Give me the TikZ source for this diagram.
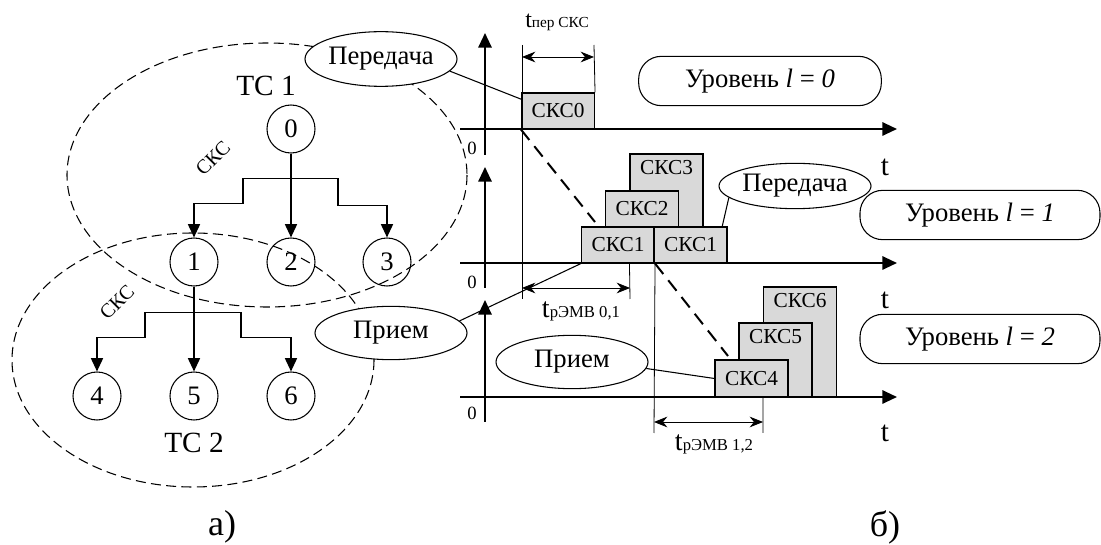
\documentclass[tikz,border=0pt]{standalone}
\usepackage{fontspec}
\setmainfont{Liberation Serif}
\usetikzlibrary{shapes.geometric, arrows.meta}
\definecolor{boxgray}{RGB}{217,217,217}
\newcommand{\durlabel}[3]{{\fontsize{#1}{22}\selectfont t}{\fontsize{#2}{14}\selectfont #3}}

\begin{document}
\begin{tikzpicture}[x=0.75pt, y=-0.75pt,
  vertex/.style={circle, draw=black, thick, minimum size=36pt, inner sep=0pt, font=\fontsize{20}{22}\selectfont},
  msg/.style={ellipse, draw=black, thick, fill=white, minimum width=114pt, minimum height=40pt, inner sep=0pt, font=\fontsize{20}{22}\selectfont},
  skc/.style={rectangle, draw=black, thick, fill=boxgray, minimum width=54.75pt, minimum height=27pt, inner sep=0pt, font=\fontsize{16}{18}\selectfont},
  skctext/.style={font=\fontsize{16}{18}\selectfont, anchor=north, yshift=-2pt},
  tier/.style={rectangle, rounded corners=17pt, draw=black, thick, fill=white, minimum width=182pt, minimum height=37pt, font=\fontsize{20}{22}\selectfont},
  title/.style={font=\fontsize{22}{24}\selectfont},
  zonelbl/.style={font=\fontsize{15}{17}\selectfont, rotate=45},
  zero/.style={font=\fontsize{14}{16}\selectfont},
  tlbl/.style={font=\fontsize{22}{24}\selectfont},
  caption/.style={font=\fontsize{27}{30}\selectfont},
  arrow/.style={line width=1.3pt, -{Triangle[length=10pt, width=9pt]}},
  timeaxis/.style={line width=1.5pt, -{Triangle[length=11pt, width=10pt]}},
  span/.style={line width=0.6pt, {Stealth[length=10pt, width=8pt]}-{Stealth[length=10pt, width=8pt]}},
  guide/.style={line width=0.6pt},
  link/.style={line width=0.8pt},
  zone/.style={line width=0.8pt, dash pattern=on 7.5pt off 4pt},
  jump/.style={line width=1.5pt, dash pattern=on 10pt off 6pt}
]
\useasboundingbox (0,0) rectangle (1101,545);

% a) tree
\draw [zone] (267,175) ellipse [x radius=200, y radius=132];
\draw [zone] (193,360) ellipse [x radius=181, y radius=127];
\node (z1) [zonelbl] at (213,158) {СКС};
\node (z2) [zonelbl] at (117,302) {СКС};

\node (tc1) [title] at (266,86) {ТС 1};
\node (tc2) [title] at (194,443) {ТС 2};

\node (n0) [vertex] at (291,129) {0};
\node (n1) [vertex] at (194,262) {1};
\node (n2) [vertex] at (291,262) {2};
\node (n3) [vertex] at (387,262) {3};
\node (n4) [vertex] at (97,396) {4};
\node (n5) [vertex] at (194,396) {5};
\node (n6) [vertex] at (291,396) {6};

\draw [arrow] (n0) -- (n2);
\draw [arrow] (n0.south) -- ++(0,25) -| ++(-48,25) -| (n1.north);
\draw [arrow] (n0.south) -- ++(0,25) -| ++(47,27) -| (n3.north);
\draw [arrow] (n1) -- (n5);
\draw [arrow] (n1.south) -- ++(0,26) -| ++(-49,25) -| (n4.north);
\draw [arrow] (n1.south) -- ++(0,26) -| ++(47,25) -| (n6.north);

\node (sendL) [msg, minimum height=41pt] at (381,59) {Передача};
\node (recvL) [msg] at (391,333) {Прием};

% b) time axes
\coordinate (x0a) at (460,129); \coordinate (x0b) at (897,129);
\coordinate (y0a) at (485,155); \coordinate (y0b) at (485,33);
\coordinate (x1a) at (460,263); \coordinate (x1b) at (897,263);
\coordinate (y1a) at (485,288); \coordinate (y1b) at (485,167);
\coordinate (x2a) at (460,397); \coordinate (x2b) at (897,397);
\coordinate (y2a) at (485,422); \coordinate (y2b) at (485,300);
\draw [timeaxis] (x0a) -- (x0b);
\draw [timeaxis] (y0a) -- (y0b);
\draw [timeaxis] (x1a) -- (x1b);
\draw [timeaxis] (y1a) -- (y1b);
\draw [timeaxis] (x2a) -- (x2b);
\draw [timeaxis] (y2a) -- (y2b);

\node (o0) [zero] at (472,148) {0};
\node (o1) [zero] at (472,282) {0};
\node (o2) [zero] at (472,413) {0};
\node (t0) [tlbl] at (885,167) {t};
\node (t1) [tlbl] at (885,300) {t};
\node (t2) [tlbl] at (885,433) {t};

% frames
\node (c0) [skc] at (558,111) {СКС0};
\node (c3) [skc, minimum height=81.75pt, label={[skctext]north:СКС3}] at (666.5,208.5) {};
\node (c2) [skc] at (642,209) {СКС2};
\node (c1a) [skc] at (618,245) {СКС1};
\node (c1b) [skc] at (690.5,245) {СКС1};
\node (c6) [skc, minimum height=82.5pt, label={[skctext]north:СКС6}] at (800,342) {};
\node (c5) [skc, minimum height=55.5pt, label={[skctext]north:СКС5}] at (775.5,360) {};
\node (c4) [skc, minimum height=27.75pt] at (751.5,378.5) {СКС4};

% guide lines and spans
\coordinate (g0a) at (522,45); \coordinate (g0b) at (522,299);
\coordinate (g1a) at (594,45);
\coordinate (g2b) at (630,299);
\coordinate (g3b) at (654,433);
\coordinate (g4b) at (763,433);
\draw [guide] (g0a) -- (g0b);
\draw [guide] (g1a) -- (c0.north east);
\draw [guide] (c3.south west) -- (g2b);
\draw [guide] (c1a.south east) -- (g3b);
\draw [guide] (c6.south west) -- (g4b);

\coordinate (s0a) at (522,57); \coordinate (s0b) at (594,57);
\coordinate (s1a) at (522,288); \coordinate (s1b) at (630,288);
\coordinate (s2a) at (654,422); \coordinate (s2b) at (763,422);
\draw [span] (s0a) -- (s0b);
\draw [span] (s1a) -- (s1b);
\draw [span] (s2a) -- (s2b);
\node (tper) at (557,22) {\durlabel{18}{11.5}{пер СКС}};
\node (tr01) at (581,311) {\durlabel{21}{12.5}{рЭМВ 0,1}};
\node (tr12) at (714,444) {\durlabel{21}{12.5}{рЭМВ 1,2}};

\coordinate (j0) at (595,222);
\coordinate (j1) at (728,356);
\draw [jump] (c0.south west) -- (j0);
\draw [jump] (c1a.south east) -- (j1);

\node (sendR) [msg, minimum height=34pt] at (795,186) {Передача};
\node (recvR) [msg] at (572,362) {Прием};

\draw [link] (sendL.-10) -- ([yshift=-5pt]c0.north west);
\draw [link] (recvL.10) -- (c1a.south west);
\draw [link] (sendR.190) -- ([xshift=-4pt]c1b.north east);
\draw [link] (recvR.-5) -- (c4.west);

\node (lv0) [tier] at (760,81) {Уровень \textit{l} = \textit{0}};
\node (lv1) [tier, minimum width=180pt] at (980,215) {Уровень \textit{l} = \textit{1}};
\node (lv2) [tier, minimum width=180pt] at (980,339) {Уровень \textit{l} = \textit{2}};

\node (capa) [caption] at (222,527) {а)};
\node (capb) [caption] at (885,527) {б)};
\end{tikzpicture}
\end{document}
